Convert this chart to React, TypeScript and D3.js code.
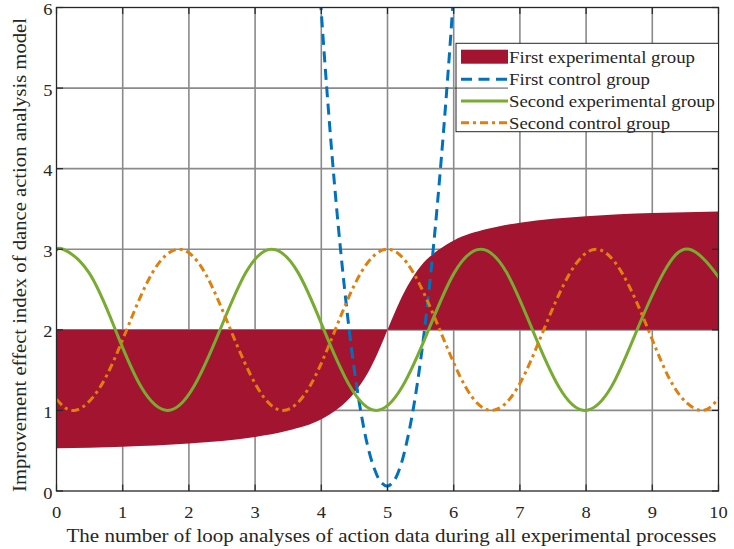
import React from "react";
import * as d3 from "d3";

// ---- data ----
const xTicks = [0, 1, 2, 3, 4, 5, 6, 7, 8, 9, 10];
const yTicks = [0, 1, 2, 3, 4, 5, 6];

// First experimental group (filled band between baseline 2 and curve)
const fillBase = 2;
const fillX = [0, 1, 2, 3, 3.5, 4, 4.25, 4.5, 4.7, 4.85, 4.95, 5, 5.05, 5.15, 5.3, 5.5, 5.75, 6, 6.5, 7, 8, 9, 10];
const fillY = [0.53, 0.55, 0.59, 0.67, 0.75, 0.89, 1.02, 1.22, 1.46, 1.71, 1.9, 2.0, 2.1, 2.29, 2.54, 2.79, 2.98, 3.11, 3.25, 3.33, 3.41, 3.45, 3.47];

// First control group (dashed blue)
const blueX = [3.9, 4.0, 4.1, 4.2, 4.3, 4.4, 4.5, 4.6, 4.7, 4.8, 4.9, 5.0, 5.1, 5.2, 5.3, 5.4, 5.5, 5.6, 5.7, 5.8, 5.9, 6.0, 6.1];
const blueY = [7.19, 5.94, 4.81, 3.8, 2.92, 2.15, 1.5, 0.97, 0.56, 0.28, 0.11, 0.06, 0.13, 0.32, 0.64, 1.07, 1.62, 2.29, 3.08, 4.0, 5.03, 6.18, 7.45];

// Second experimental group (solid green)
const greenX = [0, 0.1, 0.49, 0.89, 1.28, 1.68, 2.07, 2.47, 2.86, 3.25, 3.65, 4.04, 4.44, 4.83, 5.22, 5.62, 6.01, 6.41, 6.8, 7.19, 7.59, 7.98, 8.38, 8.77, 9.17, 9.56, 9.95, 10];
const greenY = [2.98, 3, 2.71, 2, 1.29, 1, 1.29, 2, 2.71, 3, 2.71, 2, 1.29, 1, 1.29, 2, 2.71, 3, 2.71, 2, 1.29, 1, 1.29, 2, 2.71, 3, 2.71, 2.64];

// Second control group (dash-dot orange)
const orangeX = [0, 0.27, 0.66, 1.06, 1.45, 1.85, 2.24, 2.63, 3.03, 3.42, 3.82, 4.21, 4.6, 5.0, 5.39, 5.79, 6.18, 6.57, 6.97, 7.36, 7.76, 8.15, 8.54, 8.94, 9.33, 9.73, 10];
const orangeY = [1.14, 1, 1.29, 2, 2.71, 3, 2.71, 2, 1.29, 1, 1.29, 2, 2.71, 3, 2.71, 2, 1.29, 1, 1.29, 2, 2.71, 3, 2.71, 2, 1.29, 1, 1.15];

const legendLabels = ["First experimental group", "First control group", "Second experimental group", "Second control group"];
const xTitle = "The number of loop analyses of action data during all experimental processes";
const yTitle = "Improvement effect index of dance action analysis model";

// ---- styles ----
const FONT = "'Liberation Serif', 'Times New Roman', serif";
const INK = "#262626";
const GRID = "#8a8a8a";
const C_FILL = "#A2142F";
const C_BLUE = "#0072BD";
const C_GREEN = "#77AC30";
const C_ORANGE = "#DF7F0C";

export default function App() {
  const W = 734, H = 549;
  const L = 56.5, R = 718.5, T = 7.5, B = 491;
  const x = d3.scaleLinear().domain([0, 10]).range([L, R]);
  const y = d3.scaleLinear().domain([0, 6]).range([B, T]);

  const zip = (xs: number[], ys: number[]) => xs.map((v, i) => [v, ys[i]] as [number, number]);

  const area = d3.area<[number, number]>()
    .x(d => x(d[0])).y0(() => y(fillBase)).y1(d => y(d[1]))
    .curve(d3.curveMonotoneX);
  const lineMono = d3.line<[number, number]>().x(d => x(d[0])).y(d => y(d[1])).curve(d3.curveCatmullRom);
  const lineNat = d3.line<[number, number]>().x(d => x(d[0])).y(d => y(d[1])).curve(d3.curveNatural);

  const tickLen = 6.5;
  const stretch = 1.12;

  const lgL = 456, lgR = 718.5, lgT = 43.3, lgB = 131.7;
  const rows = [56.7, 79.3, 101, 122.7];
  const lgLens = [186, 141, 206, 161];
  const swL = 461, swR = 508;

  const blueDash = "11,6.5";
  const orangeDash = "8,4,3,4";

  return (
    <svg width={W} height={H} style={{ position: "absolute", left: 0, top: 0, background: "#fff" }}
      fontFamily={FONT}>
      <defs>
        <clipPath id="plot"><rect x={L} y={T} width={R - L} height={B - T} /></clipPath>
      </defs>
      <rect x={0} y={0} width={W} height={H} fill="#fff" />

      {/* grid */}
      {xTicks.slice(1, -1).map(t => (
        <line key={"gx" + t} x1={x(t)} x2={x(t)} y1={T} y2={B} stroke={GRID} strokeWidth={1.6} />
      ))}
      {yTicks.slice(1, -1).map(t => (
        <line key={"gy" + t} x1={L} x2={R} y1={y(t)} y2={y(t)} stroke={GRID} strokeWidth={1.6} />
      ))}

      <g clipPath="url(#plot)">
        <path d={area(zip(fillX, fillY)) || ""} fill={C_FILL} />
        <path d={lineMono(zip(blueX, blueY)) || ""} fill="none" stroke={C_BLUE} strokeWidth={3} strokeDasharray={blueDash} />
        <path d={lineNat(zip(greenX, greenY)) || ""} fill="none" stroke={C_GREEN} strokeWidth={3} />
        <path d={lineNat(zip(orangeX, orangeY)) || ""} fill="none" stroke={C_ORANGE} strokeWidth={3} strokeDasharray={orangeDash} />
      </g>

      {/* axes box */}
      <rect x={L} y={T} width={R - L} height={B - T} fill="none" stroke={INK} strokeWidth={1.3} />
      {xTicks.map(t => (
        <g key={"tx" + t}>
          <line x1={x(t)} x2={x(t)} y1={B} y2={B - tickLen} stroke={INK} strokeWidth={1.2} />
          <line x1={x(t)} x2={x(t)} y1={T} y2={T + tickLen} stroke={INK} strokeWidth={1.2} />
          <g transform={`translate(${x(t)},${518}) scale(${stretch},1)`}>
            <text textAnchor="middle" fontSize={16.5} fill={INK}>{t}</text>
          </g>
        </g>
      ))}
      {yTicks.map(t => (
        <g key={"ty" + t}>
          <line x1={L} x2={L + tickLen} y1={y(t)} y2={y(t)} stroke={INK} strokeWidth={1.2} />
          <line x1={R} x2={R - tickLen} y1={y(t)} y2={y(t)} stroke={INK} strokeWidth={1.2} />
          <g transform={`translate(${L - 4},${y(t) + 7.5}) scale(${stretch},1)`}>
            <text textAnchor="end" fontSize={16.5} fill={INK}>{t}</text>
          </g>
        </g>
      ))}

      {/* legend */}
      <rect x={lgL} y={lgT} width={lgR - lgL} height={lgB - lgT} fill="#fff" stroke={INK} strokeWidth={1} />
      <line x1={lgL} x2={swR} y1={y(5)} y2={y(5)} stroke={INK} strokeWidth={1} opacity={0.8} />
      <rect x={swL} y={rows[0] - 7} width={swR - swL} height={14} fill={C_FILL} />
      <line x1={swL} x2={swR} y1={rows[1]} y2={rows[1]} stroke={C_BLUE} strokeWidth={3} strokeDasharray={blueDash} />
      <line x1={swL} x2={swR} y1={rows[2]} y2={rows[2]} stroke={C_GREEN} strokeWidth={3} />
      <line x1={swL} x2={swR} y1={rows[3]} y2={rows[3]} stroke={C_ORANGE} strokeWidth={3} strokeDasharray={orangeDash} />
      {legendLabels.map((s, i) => (
        <text key={s} x={509} y={rows[i] + 5.8} fontSize={17} fill={INK}
          textLength={lgLens[i]} lengthAdjust="spacingAndGlyphs">{s}</text>
      ))}

      {/* titles */}
      <text x={66.5} y={542} fontSize={19} fill={INK} textLength={650} lengthAdjust="spacingAndGlyphs">{xTitle}</text>
      <text transform={`translate(26,492) rotate(-90)`} fontSize={19.5} fill={INK}
        textLength={474} lengthAdjust="spacingAndGlyphs">{yTitle}</text>
    </svg>
  );
}
